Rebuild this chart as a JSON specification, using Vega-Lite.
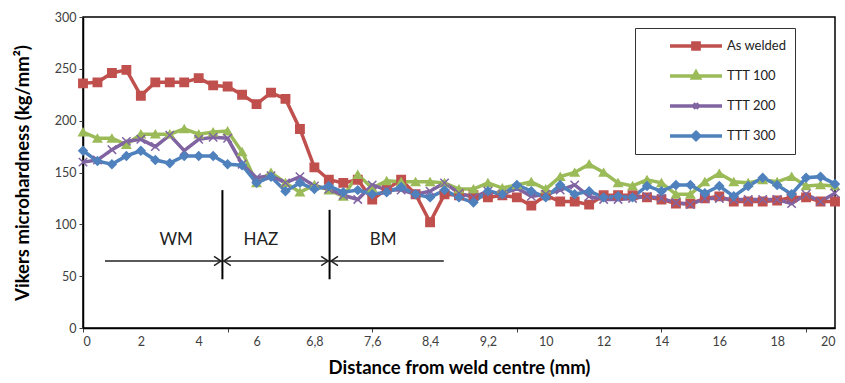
{
  "$schema": "https://vega.github.io/schema/vega-lite/v6.json",
  "width": 752,
  "height": 311,
  "autosize": {"type": "none"},
  "padding": {"left": 83, "top": 17, "right": 10, "bottom": 55},
  "background": "white",
  "config": {
    "font": "Lato",
    "view": {"stroke": "black", "strokeWidth": 1.5},
    "axis": {"grid": false}
  },
  "datasets": {
    "h": [
      {"d": 0, "As welded": 236, "TTT 100": 189, "TTT 200": 160, "TTT 300": 171},
      {"d": 0.5, "As welded": 237, "TTT 100": 183, "TTT 200": 162, "TTT 300": 161},
      {"d": 1, "As welded": 246, "TTT 100": 183, "TTT 200": 172, "TTT 300": 158},
      {"d": 1.5, "As welded": 249, "TTT 100": 177, "TTT 200": 180, "TTT 300": 166},
      {"d": 2, "As welded": 224, "TTT 100": 187, "TTT 200": 182, "TTT 300": 171},
      {"d": 2.5, "As welded": 237, "TTT 100": 187, "TTT 200": 175, "TTT 300": 162},
      {"d": 3, "As welded": 237, "TTT 100": 187, "TTT 200": 186, "TTT 300": 159},
      {"d": 3.5, "As welded": 237, "TTT 100": 192, "TTT 200": 171, "TTT 300": 166},
      {"d": 4, "As welded": 241, "TTT 100": 187, "TTT 200": 182, "TTT 300": 166},
      {"d": 4.5, "As welded": 234, "TTT 100": 189, "TTT 200": 184, "TTT 300": 166},
      {"d": 5, "As welded": 233, "TTT 100": 190, "TTT 200": 183, "TTT 300": 158},
      {"d": 5.5, "As welded": 225, "TTT 100": 170, "TTT 200": 158, "TTT 300": 157},
      {"d": 6, "As welded": 216, "TTT 100": 140, "TTT 200": 145, "TTT 300": 140},
      {"d": 6.2, "As welded": 227, "TTT 100": 150, "TTT 200": 147, "TTT 300": 146},
      {"d": 6.4, "As welded": 221, "TTT 100": 140, "TTT 200": 140, "TTT 300": 132},
      {"d": 6.6, "As welded": 192, "TTT 100": 131, "TTT 200": 146, "TTT 300": 140},
      {"d": 6.8, "As welded": 155, "TTT 100": 138, "TTT 200": 137, "TTT 300": 134},
      {"d": 7, "As welded": 143, "TTT 100": 133, "TTT 200": 134, "TTT 300": 137},
      {"d": 7.2, "As welded": 140, "TTT 100": 127, "TTT 200": 128, "TTT 300": 131},
      {"d": 7.4, "As welded": 143, "TTT 100": 148, "TTT 200": 124, "TTT 300": 133},
      {"d": 7.6, "As welded": 124, "TTT 100": 135, "TTT 200": 138, "TTT 300": 129},
      {"d": 7.8, "As welded": 134, "TTT 100": 142, "TTT 200": 133, "TTT 300": 131},
      {"d": 8, "As welded": 143, "TTT 100": 141, "TTT 200": 133, "TTT 300": 136},
      {"d": 8.2, "As welded": 129, "TTT 100": 141, "TTT 200": 129, "TTT 300": 129},
      {"d": 8.4, "As welded": 102, "TTT 100": 141, "TTT 200": 132, "TTT 300": 126},
      {"d": 8.6, "As welded": 129, "TTT 100": 140, "TTT 200": 140, "TTT 300": 133},
      {"d": 8.8, "As welded": 128, "TTT 100": 134, "TTT 200": 130, "TTT 300": 126},
      {"d": 9, "As welded": 128, "TTT 100": 134, "TTT 200": 126, "TTT 300": 121},
      {"d": 9.2, "As welded": 126, "TTT 100": 140, "TTT 200": 132, "TTT 300": 132},
      {"d": 9.4, "As welded": 128, "TTT 100": 135, "TTT 200": 129, "TTT 300": 129},
      {"d": 9.6, "As welded": 126, "TTT 100": 138, "TTT 200": 135, "TTT 300": 138},
      {"d": 9.8, "As welded": 118, "TTT 100": 141, "TTT 200": 127, "TTT 300": 132},
      {"d": 10, "As welded": 128, "TTT 100": 134, "TTT 200": 129, "TTT 300": 126},
      {"d": 10.5, "As welded": 122, "TTT 100": 146, "TTT 200": 133, "TTT 300": 138},
      {"d": 11, "As welded": 122, "TTT 100": 150, "TTT 200": 138, "TTT 300": 129},
      {"d": 11.5, "As welded": 119, "TTT 100": 158, "TTT 200": 127, "TTT 300": 132},
      {"d": 12, "As welded": 128, "TTT 100": 150, "TTT 200": 124, "TTT 300": 126},
      {"d": 12.5, "As welded": 128, "TTT 100": 140, "TTT 200": 124, "TTT 300": 127},
      {"d": 13, "As welded": 128, "TTT 100": 137, "TTT 200": 125, "TTT 300": 126},
      {"d": 13.5, "As welded": 126, "TTT 100": 143, "TTT 200": 127, "TTT 300": 137},
      {"d": 14, "As welded": 124, "TTT 100": 140, "TTT 200": 125, "TTT 300": 132},
      {"d": 14.5, "As welded": 120, "TTT 100": 129, "TTT 200": 121, "TTT 300": 138},
      {"d": 15, "As welded": 120, "TTT 100": 129, "TTT 200": 119, "TTT 300": 138},
      {"d": 15.5, "As welded": 125, "TTT 100": 141, "TTT 200": 125, "TTT 300": 130},
      {"d": 16, "As welded": 127, "TTT 100": 149, "TTT 200": 125, "TTT 300": 137},
      {"d": 16.5, "As welded": 122, "TTT 100": 141, "TTT 200": 124, "TTT 300": 127},
      {"d": 17, "As welded": 122, "TTT 100": 140, "TTT 200": 124, "TTT 300": 137},
      {"d": 17.5, "As welded": 122, "TTT 100": 143, "TTT 200": 124, "TTT 300": 145},
      {"d": 18, "As welded": 123, "TTT 100": 141, "TTT 200": 124, "TTT 300": 138},
      {"d": 18.5, "As welded": 126, "TTT 100": 146, "TTT 200": 120, "TTT 300": 129},
      {"d": 19, "As welded": 126, "TTT 100": 137, "TTT 200": 129, "TTT 300": 145},
      {"d": 19.5, "As welded": 122, "TTT 100": 138, "TTT 200": 122, "TTT 300": 146},
      {"d": 20, "As welded": 122, "TTT 100": 137, "TTT 200": 130, "TTT 300": 139}
    ],
    "vlines": [
      {"d": 4.82, "v": 47, "v2": 133},
      {"d": 7.01, "v": 47, "v2": 114}
    ],
    "arrows": [
      {"d": 0.76, "d2": 4.82, "v": 64.6},
      {"d": 4.82, "d2": 7.01, "v": 64.6},
      {"d": 7.01, "d2": 8.59, "v": 64.6}
    ],
    "heads": [
      {"d": 4.82, "v": 64.6, "dir": "right"},
      {"d": 4.82, "v": 64.6, "dir": "left"},
      {"d": 7.01, "v": 64.6, "dir": "right"},
      {"d": 7.01, "v": 64.6, "dir": "left"}
    ],
    "zones": [
      {"d": 3.22, "v": 85, "t": "WM"},
      {"d": 6.06, "v": 85, "t": "HAZ"},
      {"d": 7.75, "v": 85, "t": "BM"}
    ]
  },
  "layer": [
    {
      "data": {"name": "h"},
      "transform": [{"fold": ["As welded", "TTT 100", "TTT 200", "TTT 300"], "as": ["s", "v"]}],
      "mark": {"type": "line", "strokeWidth": 3.5},
      "encoding": {
        "x": {
          "field": "d", "type": "quantitative",
          "scale": {"domain": [0, 6, 10, 20], "range": [0, 173.54, 462.77, 752], "nice": false},
          "axis": {
            "orient": "bottom",
            "title": "Distance from weld centre (mm)",
            "titleFont": "Lato", "titleFontSize": 18.5, "titleFontWeight": "bold", "titleColor": "black",
            "titlePadding": 11,
            "values": [0, 2, 4, 5, 6, 6.8, 7.6, 8.4, 9.2, 9.6, 10, 12, 14, 16, 18, 19, 20],
            "format": ".1~f",
            "labelExpr": "indexof([5, 9.6, 19], datum.value) >= 0 ? '' : replace(datum.label, '.', ',')",
            "labelOverlap": false,
            "labelFontSize": 12.5, "labelColor": "#404040", "labelPadding": 3,
            "domainColor": "black", "domainWidth": 1.5,
            "tickColor": "#404040", "tickSize": 4,
            "tickOpacity": {"condition": {"test": "indexof([0, 5, 7.6, 9.6, 14, 19], datum.value) >= 0", "value": 1}, "value": 0}
          }
        },
        "y": {
          "field": "v", "type": "quantitative",
          "scale": {"domain": [0, 300], "nice": false},
          "axis": {
            "title": "Vikers microhardness (kg/mm²)",
            "titleFont": "Lato", "titleFontSize": 18.5, "titleFontWeight": "bold", "titleColor": "black",
            "titlePadding": 22,
            "values": [0, 50, 100, 150, 200, 250, 300],
            "labelFontSize": 12.5, "labelColor": "#404040", "labelPadding": 3,
            "domainColor": "black", "domainWidth": 1.5,
            "tickColor": "#404040", "tickSize": 4
          }
        },
        "color": {
          "field": "s", "type": "nominal",
          "scale": {"domain": ["As welded", "TTT 100", "TTT 200", "TTT 300"], "range": ["#C0504D", "#9BBB59", "#8064A2", "#4F81BD"]},
          "legend": {
            "title": null,
            "orient": "none", "legendX": 552, "legendY": 11,
            "strokeColor": "#333", "fillColor": "white", "padding": 8,
            "symbolSize": 2704, "symbolStrokeWidth": 3.5, "symbolOffset": 25,
            "clipHeight": 20, "rowPadding": 10,
            "labelFont": "Lato", "labelFontSize": 13, "labelColor": "#222", "labelOffset": 3,
            "labelExpr": "datum.label + '           '",
            "encode": {
              "symbols": {
                "update": {
                  "shape": {"signal": "datum.value === 'As welded' ? 'M-1,0H1M-0.12,-0.12H0.12V0.12H-0.12Z' : datum.value === 'TTT 100' ? 'M-1,0H1M0,-0.15L0.13,0.08H-0.13Z' : datum.value === 'TTT 200' ? 'M-1,0H1M-0.1,-0.1L0.1,0.1M-0.1,0.1L0.1,-0.1' : 'M-1,0H1M0,-0.14L0.14,0L0,0.14L-0.14,0Z'"},
                  "fill": {"signal": "scale('color', datum.value)"}
                }
              }
            }
          }
        },
        "order": {"field": "d", "type": "quantitative"}
      }
    },
    {
      "data": {"name": "h"},
      "transform": [{"fold": ["As welded", "TTT 100", "TTT 200", "TTT 300"], "as": ["s", "v"]}],
      "mark": {"type": "point", "filled": true, "size": 70, "strokeWidth": 1.5, "opacity": 1},
      "encoding": {
        "x": {"field": "d", "type": "quantitative"},
        "y": {"field": "v", "type": "quantitative"},
        "fill": {
          "field": "s", "type": "nominal",
          "scale": {"domain": ["As welded", "TTT 100", "TTT 200", "TTT 300"], "range": ["#C0504D", "#9BBB59", "#8064A2", "#4F81BD"]},
          "legend": null
        },
        "stroke": {
          "field": "s", "type": "nominal",
          "scale": {"domain": ["As welded", "TTT 100", "TTT 200", "TTT 300"], "range": ["#C0504D", "#9BBB59", "#8064A2", "#4F81BD"]},
          "legend": null
        },
        "shape": {
          "field": "s", "type": "nominal",
          "scale": {"domain": ["As welded", "TTT 100", "TTT 200", "TTT 300"], "range": ["square", "triangle-up", "M-1,-1L1,1M-1,1L1,-1", "diamond"]},
          "legend": null
        }
      }
    },
    {
      "data": {"name": "vlines"},
      "mark": {"type": "rule", "color": "black", "strokeWidth": 2},
      "encoding": {
        "x": {"field": "d", "type": "quantitative"},
        "y": {"field": "v", "type": "quantitative"},
        "y2": {"field": "v2"}
      }
    },
    {
      "data": {"name": "arrows"},
      "mark": {"type": "rule", "color": "#222", "strokeWidth": 1.5},
      "encoding": {
        "x": {"field": "d", "type": "quantitative"},
        "x2": {"field": "d2"},
        "y": {"field": "v", "type": "quantitative"}
      }
    },
    {
      "data": {"name": "heads"},
      "mark": {"type": "point", "filled": false, "stroke": "#222", "strokeWidth": 1.5, "size": 196, "opacity": 1},
      "encoding": {
        "x": {"field": "d", "type": "quantitative"},
        "y": {"field": "v", "type": "quantitative"},
        "shape": {
          "field": "dir", "type": "nominal",
          "scale": {"domain": ["right", "left"], "range": ["M-1.2,-0.65L-0.2,0L-1.2,0.65", "M1.2,-0.65L0.2,0L1.2,0.65"]},
          "legend": null
        }
      }
    },
    {
      "data": {"name": "zones"},
      "mark": {"type": "text", "font": "Lato", "fontSize": 17, "color": "#222", "align": "center", "baseline": "middle"},
      "encoding": {
        "x": {"field": "d", "type": "quantitative"},
        "y": {"field": "v", "type": "quantitative"},
        "text": {"field": "t"}
      }
    }
  ],
  "resolve": {"scale": {"shape": "independent"}}
}
